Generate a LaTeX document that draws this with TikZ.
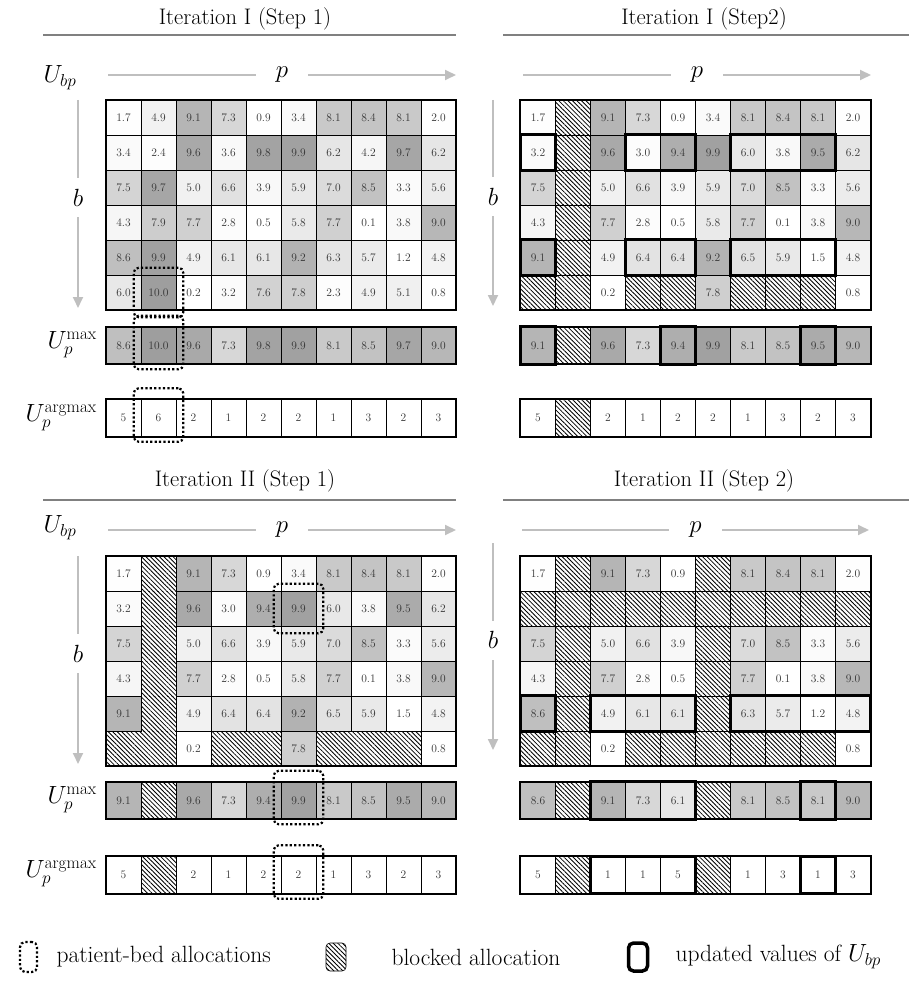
\documentclass[tikz,border=0pt]{standalone}
\usetikzlibrary{positioning, arrows.meta, fit, patterns.meta}

\newcommand\cw{35}
\def\hatchtag{H}

% one row of cells, grey level taken from the value
\newcommand\valrow[5]{%
  \foreach \val [count=\col] in {#5}{%
    \ifx\val\hatchtag
      \node[hatchcell, minimum height=#4] (#1-\col) at ({#2+(\col-1)*\cw}, #3) {};
    \else
      \pgfmathsetmacro\shd{38*(\val/10)^2.8}%
      \node[valcell, minimum height=#4, fill=black!\shd] (#1-\col) at ({#2+(\col-1)*\cw}, #3) {\val};
    \fi
  }%
}
% one row of index cells, no grey
\newcommand\idxrow[5]{%
  \foreach \val [count=\col] in {#5}{%
    \ifx\val\hatchtag
      \node[hatchcell, minimum height=#4] (#1-\col) at ({#2+(\col-1)*\cw}, #3) {};
    \else
      \node[valcell, minimum height=#4, fill=white] (#1-\col) at ({#2+(\col-1)*\cw}, #3) {\val};
    \fi
  }%
}

\begin{document}
\begin{tikzpicture}[
  x=1pt, y=-1pt,
  valcell/.style={draw, line width=0.6pt, minimum width=35pt, inner sep=0pt,
    text=black!80, font=\fontsize{11.5}{13}\selectfont},
  hatchcell/.style={draw, line width=0.6pt, minimum width=35pt, inner sep=0pt,
    pattern={Lines[angle=-45, distance=3.2pt, line width=0.85pt]}},
  gridframe/.style={line width=1.8pt},
  upd/.style={line width=3pt},
  alloc/.style={draw, line width=2.2pt, dash pattern=on 2.2pt off 2.2pt,
    rounded corners=5pt, inner sep=7pt},
  allocrow/.style={alloc, inner ysep=8pt, yshift=3pt},
  axisline/.style={draw=black!25, line width=1.8pt, -{Triangle[length=11pt, width=10pt]}},
  plabel/.style={fill=white, font=\fontsize{27}{30}\selectfont, inner xsep=20pt, inner ysep=2pt},
  blabel/.style={fill=white, font=\fontsize{27}{30}\selectfont, inner xsep=2pt, inner ysep=11pt},
  rowlabel/.style={font=\fontsize{26}{30}\selectfont, anchor=east, inner sep=0pt},
  paneltitle/.style={font=\fontsize{22.5}{26}\selectfont},
  titlerule/.style={draw=black!50, line width=1.8pt},
  legtext/.style={font=\fontsize{23.5}{27}\selectfont, anchor=west}
]
\useasboundingbox (0,0) rectangle (909,981);

% ---- Iteration I (Step 1) ----
\node[paneltitle] (tia) at (245,19) {Iteration I (Step 1)};
\draw[titlerule] (43,35) -- (456,35);
\node[font=\fontsize{27}{30}\selectfont] (uia) at (60,78) {$U_{bp}$};
\coordinate (iapS) at (108,75); \coordinate (iapE) at (456,75);
\draw[axisline] (iapS) -- node[plabel] (iap) {$p$} (iapE);
\coordinate (iabS) at (78,100); \coordinate (iabE) at (78,308);
\draw[axisline] (iabS) -- node[blabel, pos=0.47] (iab) {$b$} (iabE);

\valrow{ia-1}{123.5}{117.5}{35}{1.7,4.9,9.1,7.3,0.9,3.4,8.1,8.4,8.1,2.0}
\valrow{ia-2}{123.5}{152.5}{35}{3.4,2.4,9.6,3.6,9.8,9.9,6.2,4.2,9.7,6.2}
\valrow{ia-3}{123.5}{187.5}{35}{7.5,9.7,5.0,6.6,3.9,5.9,7.0,8.5,3.3,5.6}
\valrow{ia-4}{123.5}{222.5}{35}{4.3,7.9,7.7,2.8,0.5,5.8,7.7,0.1,3.8,9.0}
\valrow{ia-5}{123.5}{257.5}{35}{8.6,9.9,4.9,6.1,6.1,9.2,6.3,5.7,1.2,4.8}
\valrow{ia-6}{123.5}{292.5}{35}{6.0,10.0,0.2,3.2,7.6,7.8,2.3,4.9,5.1,0.8}
\draw[gridframe] (ia-1-1.north west) rectangle (ia-6-10.south east);

\node[rowlabel] (mlia) at (97,345) {$U_p^{\max}$};
\valrow{iamax}{123.5}{345.5}{37}{8.6,10.0,9.6,7.3,9.8,9.9,8.1,8.5,9.7,9.0}
\draw[gridframe] (iamax-1.north west) rectangle (iamax-10.south east);
\node[rowlabel] (alia) at (97,418) {$U_p^{\mathrm{argmax}}$};
\idxrow{iaarg}{123.5}{418}{37}{5,6,2,1,2,2,1,3,2,3}
\draw[gridframe] (iaarg-1.north west) rectangle (iaarg-10.south east);

\node[alloc, fit=(ia-6-2)] (allocia1) {};
\node[allocrow, fit=(iamax-2)] (allocia2) {};
\node[allocrow, fit=(iaarg-2)] (allocia3) {};

% ---- Iteration I (Step2) ----
\node[paneltitle] (tib) at (704,19) {Iteration I (Step2)};
\draw[titlerule] (503,35) -- (909,35);
\coordinate (ibpS) at (523,75); \coordinate (ibpE) at (871,75);
\draw[axisline] (ibpS) -- node[plabel] (ibp) {$p$} (ibpE);
\coordinate (ibbS) at (493,100); \coordinate (ibbE) at (493,306);
\draw[axisline] (ibbS) -- node[blabel, pos=0.47] (ibb) {$b$} (ibbE);

\valrow{ib-1}{538}{117.5}{35}{1.7,H,9.1,7.3,0.9,3.4,8.1,8.4,8.1,2.0}
\valrow{ib-2}{538}{152.5}{35}{3.2,H,9.6,3.0,9.4,9.9,6.0,3.8,9.5,6.2}
\valrow{ib-3}{538}{187.5}{35}{7.5,H,5.0,6.6,3.9,5.9,7.0,8.5,3.3,5.6}
\valrow{ib-4}{538}{222.5}{35}{4.3,H,7.7,2.8,0.5,5.8,7.7,0.1,3.8,9.0}
\valrow{ib-5}{538}{257.5}{35}{9.1,H,4.9,6.4,6.4,9.2,6.5,5.9,1.5,4.8}
\valrow{ib-6}{538}{292.5}{35}{H,H,0.2,H,H,7.8,H,H,H,0.8}
\draw[gridframe] (ib-1-1.north west) rectangle (ib-6-10.south east);

\valrow{ibmax}{538}{345.5}{37}{9.1,H,9.6,7.3,9.4,9.9,8.1,8.5,9.5,9.0}
\draw[gridframe] (ibmax-1.north west) rectangle (ibmax-10.south east);
\idxrow{ibarg}{538}{418}{37}{5,H,2,1,2,2,1,3,2,3}
\draw[gridframe] (ibarg-1.north west) rectangle (ibarg-10.south east);

\draw[upd] (ib-2-1.north west) rectangle (ib-2-1.south east);
\draw[upd] (ib-2-4.north west) rectangle (ib-2-5.south east);
\draw[upd] (ib-2-7.north west) rectangle (ib-2-9.south east);
\draw[upd] (ib-5-1.north west) rectangle (ib-5-1.south east);
\draw[upd] (ib-5-4.north west) rectangle (ib-5-5.south east);
\draw[upd] (ib-5-7.north west) rectangle (ib-5-9.south east);
\draw[upd] (ibmax-1.north west) rectangle (ibmax-1.south east);
\draw[upd] (ibmax-5.north west) rectangle (ibmax-5.south east);
\draw[upd] (ibmax-9.north west) rectangle (ibmax-9.south east);

% ---- Iteration II (Step 1) ----
\begin{scope}[hatchcell/.append style={draw=none}]
\node[paneltitle] (tiia) at (245,481) {Iteration II (Step 1)};
\draw[titlerule] (43,500) -- (456,500);
\node[font=\fontsize{27}{30}\selectfont] (uiia) at (60,528) {$U_{bp}$};
\coordinate (iiapS) at (108,530); \coordinate (iiapE) at (456,530);
\draw[axisline] (iiapS) -- node[plabel] (iiap) {$p$} (iiapE);
\coordinate (iiabS) at (78,556); \coordinate (iiabE) at (78,764);
\draw[axisline] (iiabS) -- node[blabel, pos=0.47] (iiab) {$b$} (iiabE);

\valrow{iia-1}{123.5}{573.5}{35}{1.7,H,9.1,7.3,0.9,3.4,8.1,8.4,8.1,2.0}
\valrow{iia-2}{123.5}{608.5}{35}{3.2,H,9.6,3.0,9.4,9.9,6.0,3.8,9.5,6.2}
\valrow{iia-3}{123.5}{643.5}{35}{7.5,H,5.0,6.6,3.9,5.9,7.0,8.5,3.3,5.6}
\valrow{iia-4}{123.5}{678.5}{35}{4.3,H,7.7,2.8,0.5,5.8,7.7,0.1,3.8,9.0}
\valrow{iia-5}{123.5}{713.5}{35}{9.1,H,4.9,6.4,6.4,9.2,6.5,5.9,1.5,4.8}
\valrow{iia-6}{123.5}{748.5}{35}{H,H,0.2,H,H,7.8,H,H,H,0.8}
\draw[gridframe] (iia-1-1.north west) rectangle (iia-6-10.south east);

\node[rowlabel] (mliia) at (97,800) {$U_p^{\max}$};
\valrow{iiamax}{123.5}{800.5}{37}{9.1,H,9.6,7.3,9.4,9.9,8.1,8.5,9.5,9.0}
\draw[gridframe] (iiamax-1.north west) rectangle (iiamax-10.south east);
\node[rowlabel] (aliia) at (97,874) {$U_p^{\mathrm{argmax}}$};
\idxrow{iiaarg}{123.5}{875}{37}{5,H,2,1,2,2,1,3,2,3}
\draw[gridframe] (iiaarg-1.north west) rectangle (iiaarg-10.south east);

\node[alloc, fit=(iia-2-6)] (allociia1) {};
\node[allocrow, fit=(iiamax-6)] (allociia2) {};
\node[allocrow, fit=(iiaarg-6)] (allociia3) {};
\end{scope}

% ---- Iteration II (Step 2) ----
\node[paneltitle] (tiib) at (704,481) {Iteration II (Step 2)};
\draw[titlerule] (503,500) -- (909,500);
\coordinate (iibpS) at (522,530); \coordinate (iibpE) at (869,530);
\draw[axisline] (iibpS) -- node[plabel] (iibp) {$p$} (iibpE);
\coordinate (iibbS) at (493,543); \coordinate (iibbE) at (493,750);
\draw[axisline] (iibbS) -- node[blabel, pos=0.47] (iibb) {$b$} (iibbE);

\valrow{iib-1}{538}{573.5}{35}{1.7,H,9.1,7.3,0.9,H,8.1,8.4,8.1,2.0}
\valrow{iib-2}{538}{608.5}{35}{H,H,H,H,H,H,H,H,H,H}
\valrow{iib-3}{538}{643.5}{35}{7.5,H,5.0,6.6,3.9,H,7.0,8.5,3.3,5.6}
\valrow{iib-4}{538}{678.5}{35}{4.3,H,7.7,2.8,0.5,H,7.7,0.1,3.8,9.0}
\valrow{iib-5}{538}{713.5}{35}{8.6,H,4.9,6.1,6.1,H,6.3,5.7,1.2,4.8}
\valrow{iib-6}{538}{748.5}{35}{H,H,0.2,H,H,H,H,H,H,0.8}
\draw[gridframe] (iib-1-1.north west) rectangle (iib-6-10.south east);

\valrow{iibmax}{538}{800.5}{37}{8.6,H,9.1,7.3,6.1,H,8.1,8.5,8.1,9.0}
\draw[gridframe] (iibmax-1.north west) rectangle (iibmax-10.south east);
\idxrow{iibarg}{538}{875}{37}{5,H,1,1,5,H,1,3,1,3}
\draw[gridframe] (iibarg-1.north west) rectangle (iibarg-10.south east);

\draw[upd] (iib-5-1.north west) rectangle (iib-5-1.south east);
\draw[upd] (iib-5-3.north west) rectangle (iib-5-5.south east);
\draw[upd] (iib-5-7.north west) rectangle (iib-5-10.south east);
\draw[upd] (iibmax-3.north west) rectangle (iibmax-5.south east);
\draw[upd] (iibmax-9.north west) rectangle (iibmax-9.south east);
\draw[upd] (iibarg-3.north west) rectangle (iibarg-5.south east);
\draw[upd] (iibarg-9.north west) rectangle (iibarg-9.south east);

% ---- Legend ----
\node[alloc, inner sep=0pt, minimum width=17pt, minimum height=30pt] (legalloc) at (28.5,957) {};
\node[legtext] (legalloctext) at (53,957) {patient-bed allocations};
\node[hatchcell, rounded corners=4pt, minimum width=20pt, minimum height=28pt] (legblock) at (336,957) {};
\node[legtext] (legblocktext) at (388,957) {blocked allocation};
\node[draw, line width=3.5pt, rounded corners=5pt, minimum width=19pt, minimum height=28pt] (legupd) at (638,957) {};
\node[legtext] (legupdtext) at (672,957) {updated values of $U_{bp}$};

\end{tikzpicture}
\end{document}
